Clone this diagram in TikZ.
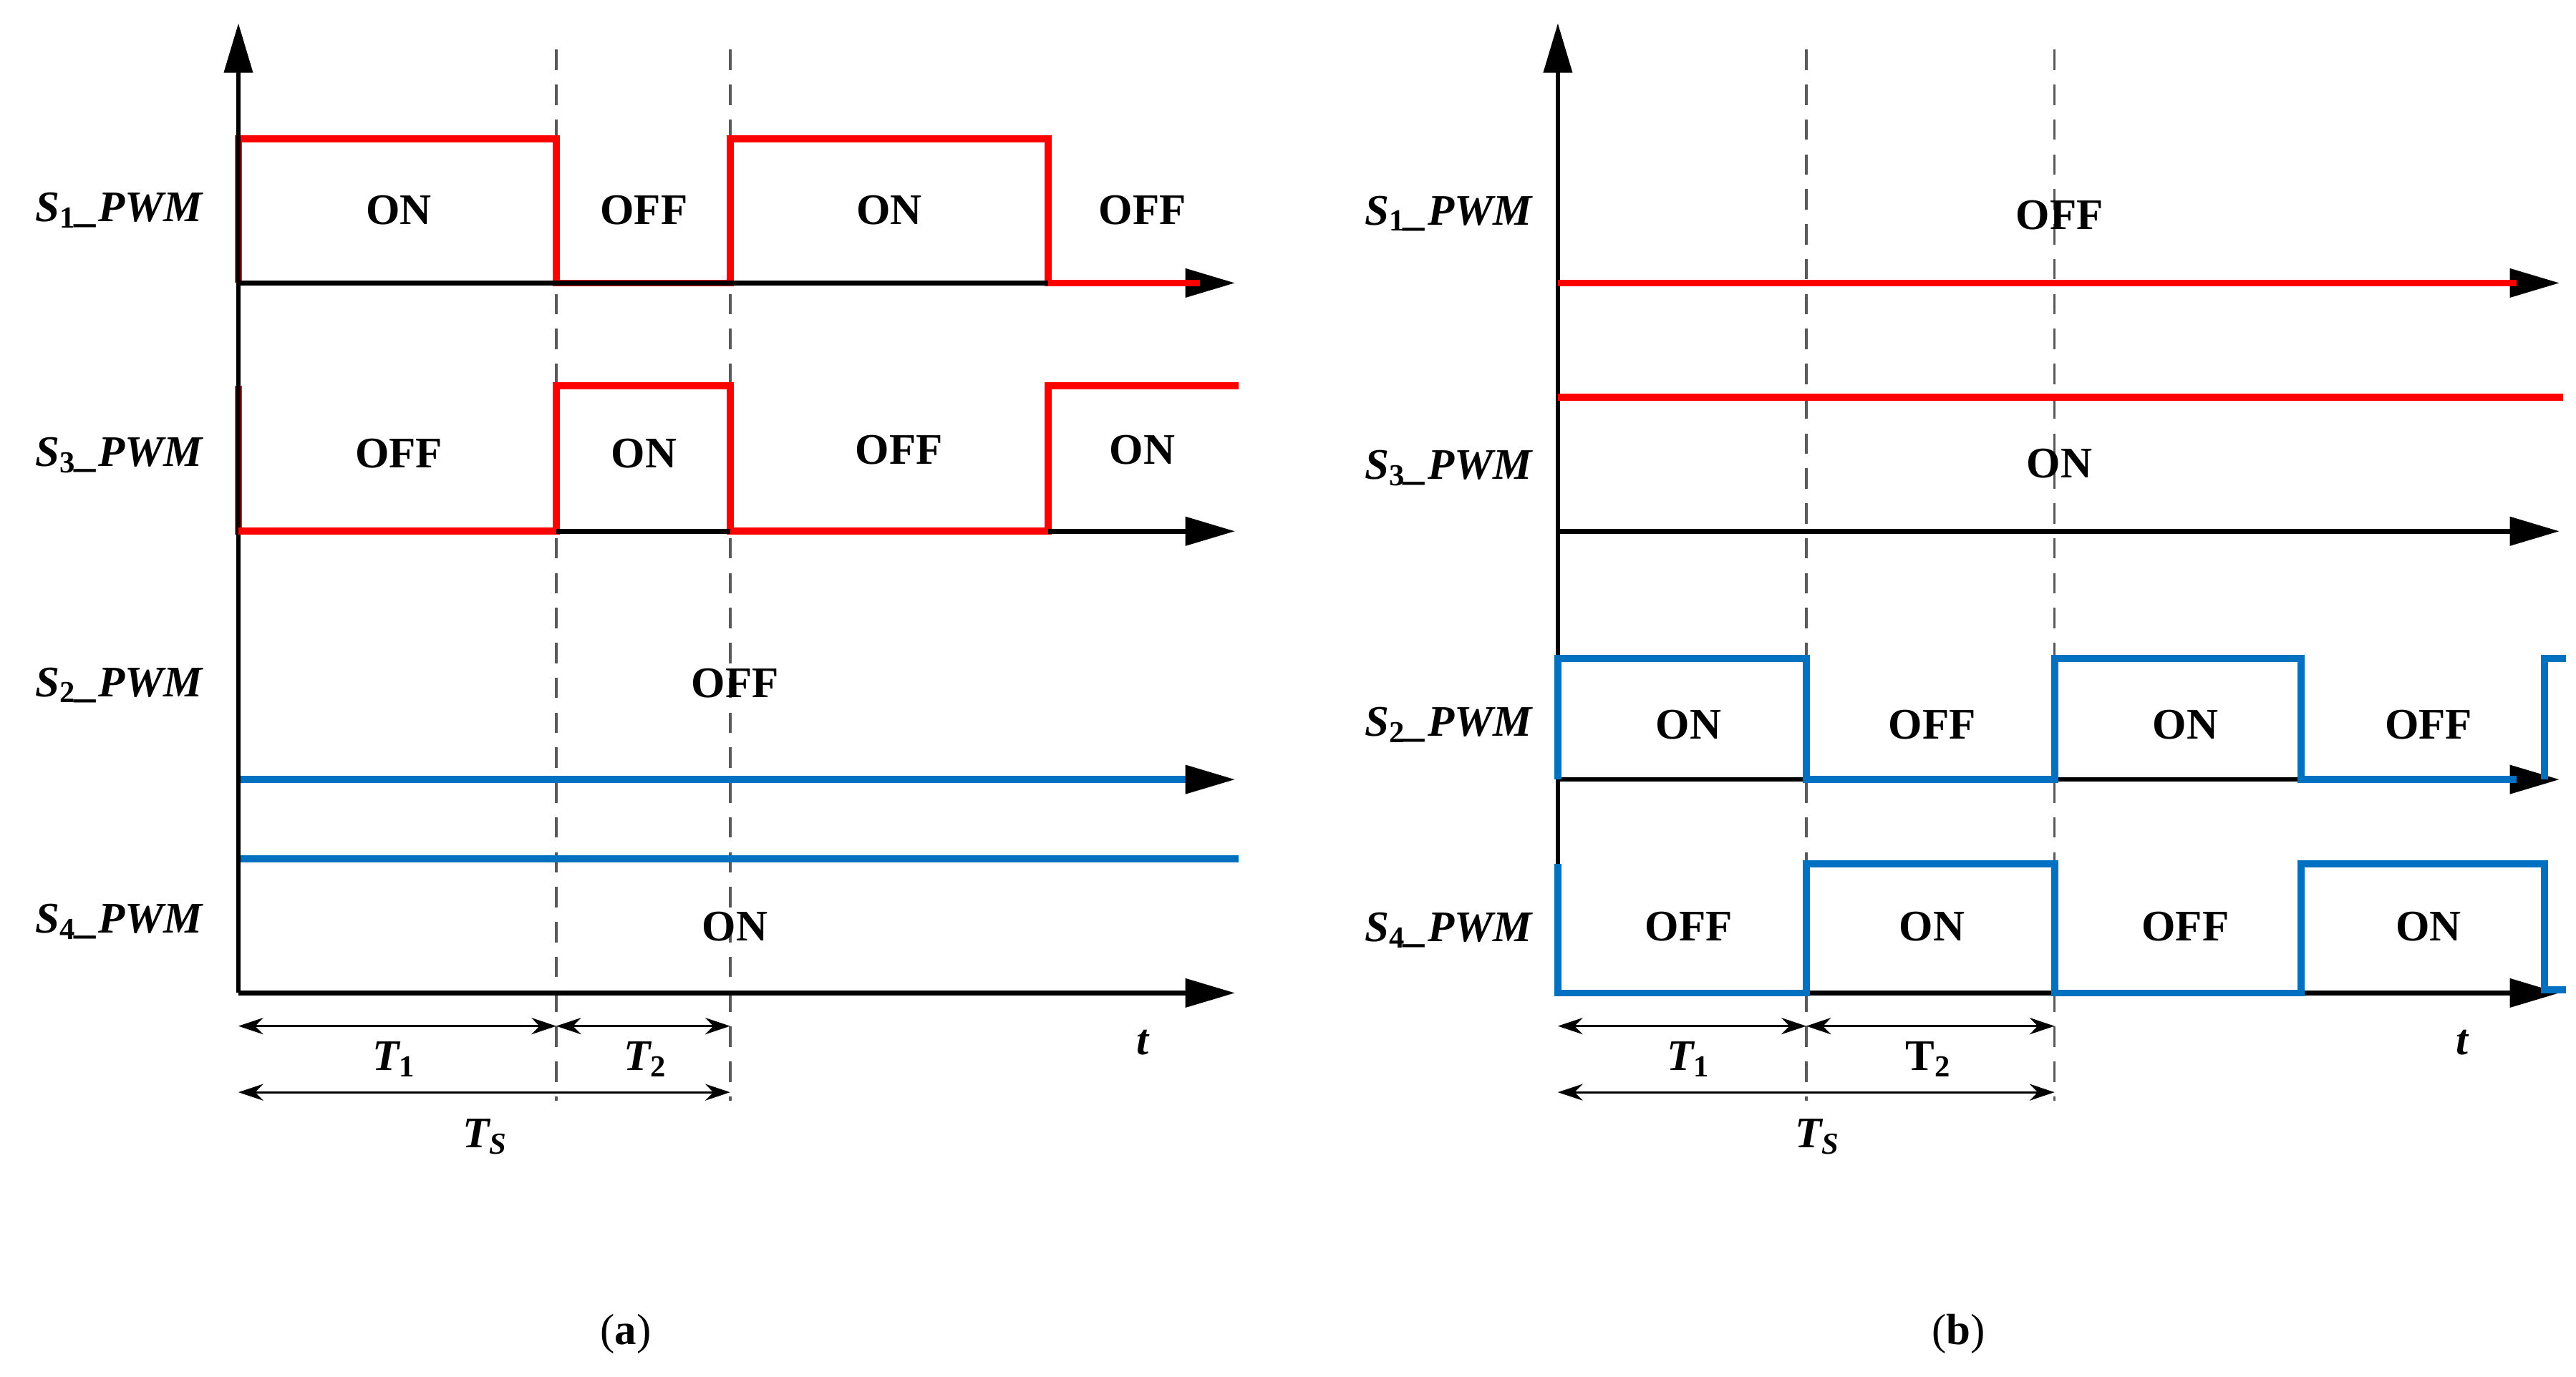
\documentclass[tikz,border=0pt]{standalone}
\usepackage{fontspec}
\setmainfont{Liberation Serif}
\usetikzlibrary{arrows.meta}
\definecolor{myred}{RGB}{255,0,0}
\definecolor{myblue}{RGB}{0,112,192}
\newcommand{\sbu}[1]{\textsubscript{\upshape #1}}
\begin{document}
\begin{tikzpicture}[x=0.02cm,y=-0.02cm,
 ax/.style={line width=1.6pt,-{Triangle[length=0.6cm,width=0.34cm]}},
 rline/.style={myred,line width=2.4pt},
 bline/.style={myblue,line width=2.4pt},
 dline/.style={gray!70!black,line width=0.9pt,dash pattern=on 7pt off 5pt},
 dim/.style={line width=0.8pt,{Stealth[length=0.3cm,width=0.2cm]}-{Stealth[length=0.3cm,width=0.2cm]}},
 lab/.style={font=\fontsize{15}{18}\selectfont\bfseries},
 sig/.style={font=\fontsize{15}{18}\selectfont\bfseries\itshape}]
\useasboundingbox (0,0) rectangle (1556,832);
% ---------- panel (a)
\draw[dline] (336,30) -- (336,665);
\draw[dline] (441,30) -- (441,665);
\draw[rline] (144,171) -- (144,84) -- (336,84) -- (336,171) -- (441,171) -- (441,84) -- (633,84) -- (633,171) -- (725,171);
\draw[rline] (144,233) -- (144,321) -- (336,321) -- (336,233) -- (441,233) -- (441,321) -- (633,321) -- (633,233) -- (748,233);
\draw[bline] (144,471) -- (725,471);
\draw[bline] (144,519) -- (748,519);
\draw[ax] (144,600) -- (144,14);
\draw[ax] (144,171) -- (746,171);
\draw[ax] (336,321) -- (746,321);
\draw[ax] (725,471) -- (746,471);
\draw[ax] (144,600) -- (746,600);
\draw[rline] (633,171) -- (725,171);
\draw[rline] (144,321) -- (336,321) (441,321) -- (633,321);
\node[sig] (a1) at (72,127) {S\sbu{1}\_PWM};
\node[sig] (a3) at (72,275) {S\sbu{3}\_PWM};
\node[sig] (a2) at (72,414) {S\sbu{2}\_PWM};
\node[sig] (a4) at (72,557) {S\sbu{4}\_PWM};
\node[lab] at (241,127) {ON};
\node[lab] at (389,127) {OFF};
\node[lab] at (537,127) {ON};
\node[lab] at (690,127) {OFF};
\node[lab] at (241,274) {OFF};
\node[lab] at (389,274) {ON};
\node[lab] at (543,272) {OFF};
\node[lab] at (690,272) {ON};
\node[lab] at (444,413) {OFF};
\node[lab] at (444,560) {ON};
\coordinate (aT0) at (144,620); \coordinate (aT1) at (336,620); \coordinate (aT2) at (441,620);
\coordinate (aS0) at (144,660); \coordinate (aS1) at (441,660);
\draw[dim] (aT0) -- (aT1);
\draw[dim] (aT1) -- (aT2);
\draw[dim] (aS0) -- (aS1);
\node[sig] at (238,640) {T\sbu{1}};
\node[sig] at (390,640) {T\sbu{2}};
\node[sig] at (293,687) {T\textsubscript{S}};
\node[sig] at (690,630) {t};
\node[font=\fontsize{15}{18}\selectfont] at (378,806) {(\textbf{a})};
% ---------- panel (b)
\draw[dline] (1091,30) -- (1091,665);
\draw[dline] (1241,30) -- (1241,665);
\draw[ax] (941,600) -- (941,14);
\draw[ax] (941,171) -- (1546,171);
\draw[ax] (941,321) -- (1546,321);
\draw[ax] (941,471) -- (1546,471);
\draw[ax] (941,600) -- (1546,600);
\draw[rline] (941,171) -- (1520,171);
\draw[rline] (941,240) -- (1548,240);
\draw[bline] (941,471) -- (941,398) -- (1091,398) -- (1091,471) -- (1241,471) -- (1241,398) -- (1390,398) -- (1390,471) -- (1520,471);
\draw[bline] (1537,471) -- (1537,398) -- (1550,398);
\draw[bline] (941,522) -- (941,600) -- (1091,600) -- (1091,522) -- (1241,522) -- (1241,600) -- (1390,600) -- (1390,522) -- (1537,522) -- (1537,598) -- (1550,598);
\node[sig] (b1) at (875,129) {S\sbu{1}\_PWM};
\node[sig] (b3) at (875,283) {S\sbu{3}\_PWM};
\node[sig] (b2) at (875,438) {S\sbu{2}\_PWM};
\node[sig] (b4) at (875,562) {S\sbu{4}\_PWM};
\node[lab] at (1244,130) {OFF};
\node[lab] at (1244,280) {ON};
\node[lab] at (1020,438) {ON};
\node[lab] at (1167,438) {OFF};
\node[lab] at (1320,438) {ON};
\node[lab] at (1467,438) {OFF};
\node[lab] at (1020,560) {OFF};
\node[lab] at (1167,560) {ON};
\node[lab] at (1320,560) {OFF};
\node[lab] at (1467,560) {ON};
\coordinate (bT0) at (941,620); \coordinate (bT1) at (1091,620); \coordinate (bT2) at (1241,620);
\coordinate (bS0) at (941,660); \coordinate (bS1) at (1241,660);
\draw[dim] (bT0) -- (bT1);
\draw[dim] (bT1) -- (bT2);
\draw[dim] (bS0) -- (bS1);
\node[sig] at (1020,640) {T\sbu{1}};
\node[lab] at (1165,640) {T\sbu{2}};
\node[sig] at (1098,687) {T\textsubscript{S}};
\node[sig] at (1487,630) {t};
\node[font=\fontsize{15}{18}\selectfont] at (1183,806) {(\textbf{b})};
\end{tikzpicture}
\end{document}
